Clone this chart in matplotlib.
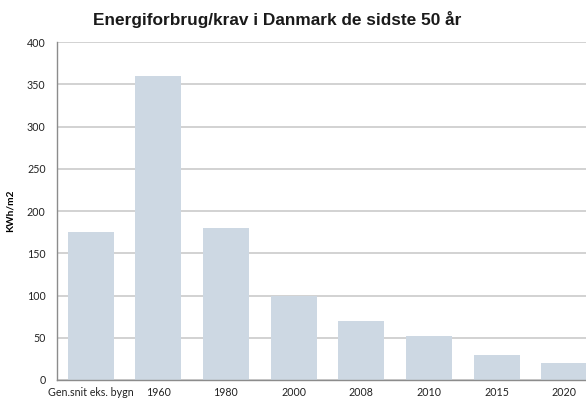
import matplotlib.pyplot as plt
import numpy as np

categories = ['Gen.snit eks. bygn', '1960', '1980', '2000', '2008', '2010', '2015', '2020']
values = [175, 360, 180, 100, 70, 52, 30, 20]
yticks = [0, 50, 100, 150, 200, 250, 300, 350, 400]

fig = plt.figure(figsize=(5.86, 4.0), dpi=100)
ax = fig.add_axes([0.0968, 0.05, 0.9237, 0.8445])

x = np.arange(len(categories))
ax.bar(x, values, width=0.68, color='#cdd8e3', zorder=2)

ax.set_xlim(-0.5, len(categories) - 0.5)
ax.set_ylim(0, 400)
ax.set_yticks(yticks)
ax.set_xticks(x)
ax.set_xticklabels(categories, fontsize=7.7, family='Lato', color='#222222')
ax.set_yticklabels([str(t) for t in yticks], fontsize=7.7, family='Lato', color='#222222')
ax.tick_params(axis='x', length=0, pad=5)
ax.tick_params(axis='y', length=0, pad=8)

ax.grid(axis='y', color='#c6c6c6', linewidth=1.1, zorder=0)
ax.set_axisbelow(True)
for s in ['top', 'right']:
    ax.spines[s].set_visible(False)
ax.spines['left'].set_color('#8c8c8c')
ax.spines['bottom'].set_color('#8c8c8c')
ax.spines['left'].set_linewidth(1.0)
ax.spines['bottom'].set_linewidth(1.0)

ax.set_ylabel('KWh/m2', fontsize=7.3, family='Lato', fontweight='bold', labelpad=9)
fig.text(277 / 586, 1 - 20 / 400, 'Energiforbrug/krav i Danmark de sidste 50 år',
         ha='center', va='center', fontsize=12.4, fontweight='bold',
         family='Liberation Sans', color='#1a1a1a')

plt.savefig('out.png', dpi=100)
